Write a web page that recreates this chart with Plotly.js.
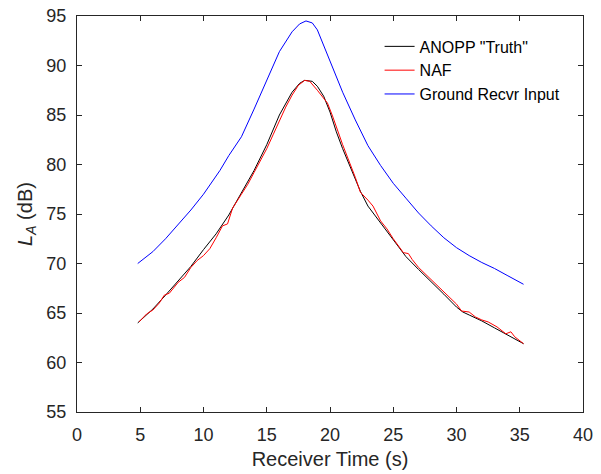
<!DOCTYPE html>
<html>
<head>
<meta charset="utf-8">
<script src="https://cdn.plot.ly/plotly-3.0.1.min.js"></script>
<style>html,body{margin:0;padding:0;background:#fff;}#chart{width:601px;height:474px;}</style>
</head>
<body>
<div id="chart"></div>
<script>
// ANOPP "Truth"
const truthT = [4.8, 5.5, 6, 7, 8, 9, 10, 11, 12, 13, 14, 15, 16, 17, 17.6, 18.0, 18.6, 19, 19.5, 20, 20.5, 21, 22, 22.4, 23, 24, 25, 26, 27, 28, 29, 30, 30.5, 31, 32, 33, 34, 35.3];
const truthL = [64.0, 64.8, 65.4, 66.8, 68.2, 69.7, 71.4, 73.0, 74.9, 77.2, 79.4, 82.0, 85.0, 87.3, 88.2, 88.5, 88.4, 87.9, 86.9, 85.3, 83.3, 81.6, 78.5, 77.3, 75.8, 74.1, 72.4, 70.7, 69.4, 68.2, 66.9, 65.6, 65.1, 64.8, 64.2, 63.5, 62.8, 61.9];
// NAF
const nafT = [4.9, 5.5, 6, 6.5, 6.9, 7.3, 8, 8.5, 9, 9.5, 10, 10.5, 11, 11.5, 11.9, 12.3, 13, 13.5, 14, 14.5, 15, 15.5, 16, 16.5, 17, 17.5, 18.0, 18.4, 19, 19.8, 20.2, 21, 22, 22.4, 23, 23.4, 24, 24.5, 25, 25.8, 26.2, 26.5, 27, 28, 29, 30, 30.4, 31, 31.5, 32, 32.5, 33.2, 33.9, 34.3, 34.6, 35.3];
const nafL = [64.1, 64.9, 65.3, 66.0, 66.8, 67.0, 68.1, 68.6, 69.6, 70.3, 70.8, 71.5, 72.6, 73.8, 74.0, 75.6, 77.0, 78.0, 79.2, 80.4, 81.6, 83.0, 84.4, 85.8, 87.0, 88.0, 88.5, 88.4, 87.5, 86.2, 84.9, 82.0, 78.7, 77.2, 76.4, 75.8, 74.3, 73.5, 72.5, 71.1, 71.0, 70.4, 69.6, 68.4, 67.1, 65.9, 65.2, 65.1, 64.6, 64.3, 64.1, 63.6, 62.9, 63.1, 62.6, 61.9];
// Ground Recvr Input
const groundT = [4.8, 6, 7, 8, 9, 10, 11.3, 12, 13, 14, 15, 16, 17, 17.6, 18.1, 18.6, 19, 20, 21, 22, 23, 24, 25, 26, 27, 28, 29, 30, 31, 32, 33, 34, 35.3];
const groundL = [70.0, 71.2, 72.5, 73.9, 75.4, 77.0, 79.4, 80.9, 82.8, 85.6, 88.5, 91.4, 93.4, 94.2, 94.5, 94.3, 93.6, 90.4, 87.3, 84.5, 81.9, 79.9, 78.1, 76.6, 75.1, 73.8, 72.6, 71.6, 70.8, 70.1, 69.5, 68.8, 67.9];

const seriesNames = ['ANOPP "Truth"', 'NAF', 'Ground Recvr Input'];
const xTicks = [0, 5, 10, 15, 20, 25, 30, 35, 40];
const yTicks = [55, 60, 65, 70, 75, 80, 85, 90, 95];

const axisColor = '#262626';
const fontFam = '"Liberation Sans", Arial, Helvetica, sans-serif';

const traces = [
  {x: truthT, y: truthL, name: seriesNames[0], mode: 'lines', line: {color: '#000000', width: 1}},
  {x: nafT, y: nafL, name: seriesNames[1], mode: 'lines', line: {color: '#ff0000', width: 1}},
  {x: groundT, y: groundL, name: seriesNames[2], mode: 'lines', line: {color: '#0000ff', width: 1}}
];

const axisCommon = {
  showgrid: false, zeroline: false, showline: true, mirror: 'ticks',
  linecolor: axisColor, linewidth: 1, ticks: 'inside', ticklen: 5, tickwidth: 1,
  tickcolor: axisColor, tickfont: {family: fontFam, size: 18, color: axisColor}
};

const layout = {
  width: 601, height: 474,
  margin: {l: 77, r: 18, t: 16, b: 62, pad: 0},
  paper_bgcolor: '#ffffff', plot_bgcolor: '#ffffff',
  font: {family: fontFam, color: axisColor},
  showlegend: true,
  legend: {
    x: 0.598, y: 0.966, xanchor: 'left', yanchor: 'top',
    bgcolor: 'rgba(0,0,0,0)', borderwidth: 0,
    font: {family: fontFam, size: 16, color: '#000000'},
    tracegroupgap: 0, itemwidth: 30
  },
  xaxis: Object.assign({}, axisCommon, {
    range: [0, 40], tickvals: xTicks, ticktext: xTicks.map(String),
    ticklabelstandoff: 6,
    title: {text: 'Receiver Time (s)', font: {family: fontFam, size: 20, color: axisColor}, standoff: 8}
  }),
  yaxis: Object.assign({}, axisCommon, {
    range: [55, 95], tickvals: yTicks, ticktext: yTicks.map(String),
    ticklabelstandoff: 6,
    title: {text: '<i>L</i><sub><i>A</i></sub> (dB)', font: {family: fontFam, size: 20, color: axisColor}, standoff: 8}
  })
};

Plotly.newPlot('chart', traces, layout, {displayModeBar: false, staticPlot: true});
</script>
</body>
</html>
